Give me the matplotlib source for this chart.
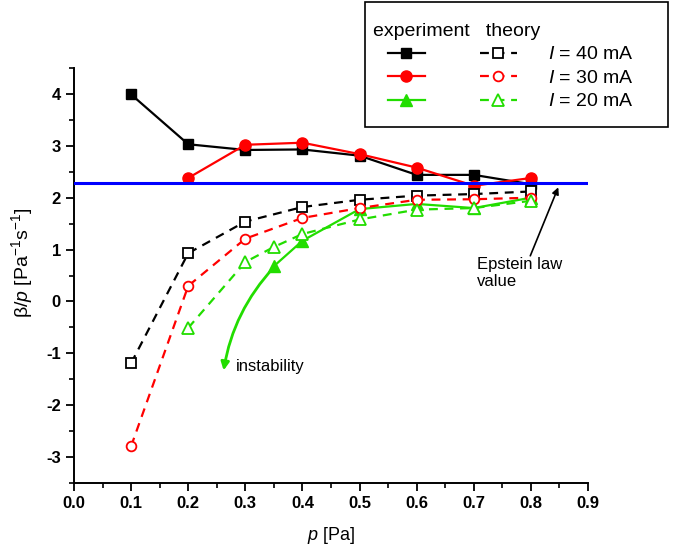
import numpy as np
import matplotlib.pyplot as plt
from matplotlib.lines import Line2D
from matplotlib.patches import Rectangle
from matplotlib.legend_handler import HandlerLine2D

plt.rcParams['font.family'] = ['Liberation Sans', 'DejaVu Sans']
plt.rcParams['mathtext.fontset'] = 'custom'
plt.rcParams['mathtext.rm'] = 'Liberation Sans'
plt.rcParams['mathtext.it'] = 'Liberation Sans:italic'

# measured beta/p values
p_40 = [0.1, 0.2, 0.3, 0.4, 0.5, 0.6, 0.7, 0.8]
exp_40 = [3.99, 3.03, 2.92, 2.93, 2.81, 2.44, 2.44, 2.26]
p_30 = [0.2, 0.3, 0.4, 0.5, 0.6, 0.7, 0.8]
exp_30 = [2.38, 3.02, 3.06, 2.84, 2.58, 2.23, 2.38]
p_20 = [0.35, 0.4, 0.5, 0.6, 0.7, 0.8]
exp_20 = [0.68, 1.17, 1.78, 1.88, 1.80, 2.00]

# theory
pt_40 = [0.1, 0.2, 0.3, 0.4, 0.5, 0.6, 0.7, 0.8]
th_40 = [-1.19, 0.93, 1.54, 1.82, 1.96, 2.04, 2.07, 2.12]
pt_30 = [0.1, 0.2, 0.3, 0.4, 0.5, 0.6, 0.7, 0.8]
th_30 = [-2.79, 0.30, 1.21, 1.61, 1.80, 1.96, 1.97, 2.00]
pt_20 = [0.2, 0.3, 0.35, 0.4, 0.5, 0.6, 0.7, 0.8]
th_20 = [-0.51, 0.76, 1.05, 1.30, 1.58, 1.77, 1.80, 1.94]

epstein = 2.28
currents = [40, 30, 20]

black = '#000000'
red = '#ff0000'
green = '#22dd00'
blue = '#0000ff'

fig = plt.figure(figsize=(6.81, 5.48), dpi=100)
ax = fig.add_axes([0.1087, 0.1186, 0.7547, 0.7573])

lw = 1.6
dash = (4, 3)

e40, = ax.plot(p_40, exp_40, '-', color=black, lw=lw, marker='s', ms=7)
e30, = ax.plot(p_30, exp_30, '-', color=red, lw=lw, marker='o', ms=8)
e20, = ax.plot(p_20, exp_20, '-', color=green, lw=lw, marker='^', ms=8)

t40, = ax.plot(pt_40, th_40, '--', dashes=dash, color=black, lw=lw, marker='s',
               ms=7, mfc='white', mew=1.3)
t30, = ax.plot(pt_30, th_30, '--', dashes=dash, color=red, lw=lw, marker='o',
               ms=7, mfc='white', mew=1.3)
t20, = ax.plot(pt_20, th_20, '--', dashes=dash, color=green, lw=lw, marker='^',
               ms=8, mfc='white', mew=1.3)

ax.axhline(epstein, color=blue, lw=2.2, zorder=5)

# annotations
ax.annotate('', xy=(0.848, 2.20), xytext=(0.799, 0.88),
            arrowprops=dict(arrowstyle='-|>', color=black, lw=1.2,
                            mutation_scale=10, shrinkA=0, shrinkB=0))
ax.text(0.706, 0.85, 'Epstein law\nvalue', fontsize=12, ha='left', va='top',
        linespacing=1.1)

ax.annotate('', xy=(0.262, -1.33), xytext=(0.35, 0.66),
            arrowprops=dict(arrowstyle='-|>', color=green, lw=2,
                            mutation_scale=12, shrinkA=0, shrinkB=0,
                            connectionstyle='arc3,rad=0.15'))
ax.text(0.283, -1.26, 'instability', fontsize=12, ha='left', va='center')

# axes styling
ax.set_xlim(0.0, 0.9)
ax.set_ylim(-3.5, 4.5)
ax.set_xticks(np.arange(0, 0.91, 0.1))
ax.set_xticks(np.arange(0.05, 0.9, 0.1), minor=True)
ax.set_yticks(np.arange(-3, 5, 1))
ax.set_yticks(np.arange(-3.5, 4.6, 0.5), minor=True)
ax.set_xticklabels([f'{v:.1f}' for v in np.arange(0, 0.91, 0.1)])
ax.set_yticklabels([f'{v:d}' for v in range(-3, 5)])
for s in ['top', 'right']:
    ax.spines[s].set_visible(False)
for s in ['left', 'bottom']:
    ax.spines[s].set_linewidth(1.4)
ax.tick_params(which='major', direction='out', length=6, width=1.3,
               labelsize=12)
ax.tick_params(which='minor', direction='out', length=3.5, width=1.2)
for lab in ax.get_xticklabels() + ax.get_yticklabels():
    lab.set_fontweight('bold')

ax.set_xlabel('$p$ [Pa]', fontsize=13, labelpad=10)
ax.set_ylabel(r'β/$p$ [Pa$^{-1}$s$^{-1}$]', fontsize=14)
ax.yaxis.set_label_coords(-0.075, 0.53)

# legend: experiment column without labels, theory column with current labels
handles = [e40, e30, e20, t40, t30, t20]
labels = ['', '', ''] + [f'$I$ = {c} mA' for c in currents]
leg = fig.legend(handles, labels, ncol=2, loc='upper left',
                 bbox_to_anchor=(373 / 681, 1 - 23 / 548),
                 title='experiment   theory', title_fontsize=14, fontsize=14,
                 alignment='left', frameon=False, borderpad=0,
                 labelspacing=0.3, handlelength=2.67, handletextpad=1.6,
                 columnspacing=0.46, borderaxespad=0,
                 handler_map={Line2D: HandlerLine2D(xpad=0.77)})
fig.add_artist(Rectangle((365 / 681, 1 - 127 / 548), 303 / 681, 125 / 548,
                         transform=fig.transFigure, fill=False,
                         edgecolor=black, lw=1.2))

plt.savefig('out.png', dpi=100)
